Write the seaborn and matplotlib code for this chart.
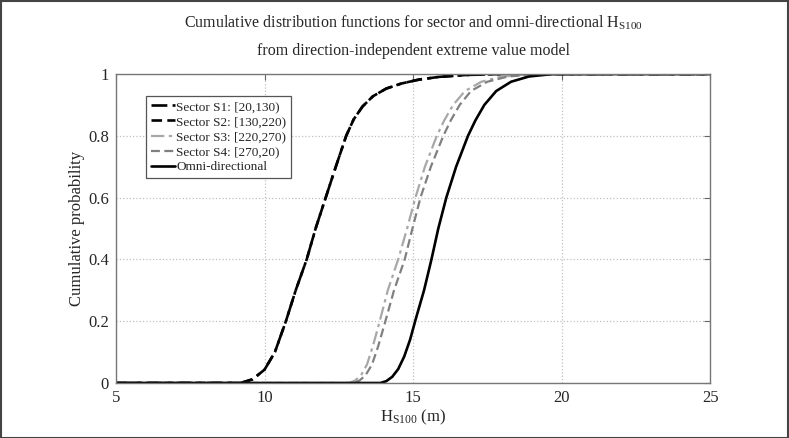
import matplotlib
matplotlib.use("Agg")
import matplotlib.pyplot as plt
import seaborn as sns
import pandas as pd
from matplotlib.patches import Rectangle

# ---- data ----
s1_x = [5, 9.2, 9.6, 10.0, 10.35, 10.72, 11.05, 11.42, 11.72, 12.06, 12.4, 12.75, 13.0, 13.3, 13.65, 14.1, 14.6, 15.2, 15.9, 16.8, 18.0, 25]
s1_y = [0, 0, 0.012, 0.043, 0.1, 0.2, 0.3, 0.4, 0.5, 0.6, 0.7, 0.8, 0.853, 0.895, 0.928, 0.953, 0.969, 0.982, 0.991, 0.997, 1, 1]

s2_x = [5, 9.2, 9.6, 10.0, 10.35, 10.72, 11.05, 11.42, 11.72, 12.06, 12.4, 12.75, 13.0, 13.3, 13.65, 14.1, 14.6, 15.2, 15.9, 16.8, 18.0, 25]
s2_y = [0, 0, 0.012, 0.043, 0.1, 0.2, 0.3, 0.4, 0.5, 0.6, 0.7, 0.8, 0.853, 0.895, 0.928, 0.953, 0.969, 0.982, 0.991, 0.997, 1, 1]

s3_x = [5, 12.85, 13.05, 13.25, 13.45, 13.65, 13.85, 14.15, 14.5, 14.8, 15.08, 15.4, 15.8, 16.05, 16.35, 16.75, 17.3, 18.0, 19.2, 25]
s3_y = [0, 0, 0.008, 0.025, 0.06, 0.12, 0.19, 0.3, 0.4, 0.5, 0.6, 0.7, 0.8, 0.85, 0.9, 0.945, 0.975, 0.992, 1, 1]

s4_x = [5, 13.0, 13.2, 13.4, 13.62, 13.83, 14.04, 14.36, 14.72, 14.98, 15.25, 15.6, 16.02, 16.27, 16.57, 16.95, 17.5, 18.2, 19.3, 25]
s4_y = [0, 0, 0.008, 0.025, 0.06, 0.12, 0.19, 0.3, 0.4, 0.5, 0.6, 0.7, 0.8, 0.85, 0.9, 0.945, 0.975, 0.992, 1, 1]

om_x = [5, 13.9, 14.1, 14.3, 14.5, 14.7, 14.9, 15.1, 15.37, 15.62, 15.85, 16.12, 16.45, 16.85, 17.1, 17.4, 17.8, 18.3, 18.9, 19.7, 25]
om_y = [0, 0, 0.006, 0.02, 0.045, 0.085, 0.14, 0.21, 0.3, 0.4, 0.5, 0.6, 0.7, 0.8, 0.85, 0.9, 0.945, 0.975, 0.992, 1, 1]

labels = ["Sector S1: [20,130)", "Sector S2: [130,220)", "Sector S3: [220,270)",
          "Sector S4: [270,20)", "Omni-directional"]
x_ticks = [5, 10, 15, 20, 25]
y_ticks = [0, 0.2, 0.4, 0.6, 0.8, 1]
y_ticklabels = ["0", "0.2", "0.4", "0.6", "0.8", "1"]

# ---- style ----
sns.set_style("white")
plt.rcParams["font.family"] = ["Liberation Serif", "DejaVu Serif"]
plt.rcParams["mathtext.fontset"] = "custom"
plt.rcParams["mathtext.rm"] = "Liberation Serif"
plt.rcParams["mathtext.it"] = "Liberation Serif:italic"

fig = plt.figure(figsize=(7.89, 4.38), dpi=100)
ax = fig.add_axes([0.147, 0.1256, 0.753, 0.7054])

series = [
    (s1_x, s1_y, labels[0], "black", (0, (6, 2, 1.5, 2)), 1.9),
    (s2_x, s2_y, labels[1], "black", (0, (4, 2)), 1.9),
    (s3_x, s3_y, labels[2], "#a8a8a8", (0, (6, 2, 1.5, 2)), 1.6),
    (s4_x, s4_y, labels[3], "#808080", (0, (4, 2)), 1.6),
    (om_x, om_y, labels[4], "black", "-", 1.9),
]
for xs, ys, lab, col, ls, lw in series:
    df = pd.DataFrame({"x": xs, "y": ys})
    sns.lineplot(data=df, x="x", y="y", ax=ax, color=col, linestyle=ls,
                 linewidth=lw, label=lab, estimator=None, sort=False)

ax.set_xlim(5, 25)
ax.set_ylim(0, 1)
ax.set_xticks(x_ticks)
ax.set_yticks(y_ticks)
ax.set_yticklabels(y_ticklabels)
ax.grid(True, linestyle=":", color="#c0c0c0", linewidth=0.9)
ax.tick_params(axis="x", direction="in", top=True, length=4, labelsize=12,
               color="#666666", pad=5)
ax.tick_params(axis="y", direction="in", right=True, length=4, labelsize=12,
               color="#666666", pad=5)
for sp in ax.spines.values():
    sp.set_color("#777777")
    sp.set_linewidth(1.0)

ax.set_xlabel(r"H$_{\mathrm{S100}}$ (m)", fontsize=12, labelpad=1)
ax.set_ylabel("Cumulative probability", fontsize=12, labelpad=2)
ax.set_title("Cumulative distribution functions for sector and omni-directional H$_{\\mathrm{S100}}$\n"
             "from direction-independent extreme value model",
             fontsize=11.5, linespacing=1.9, pad=14)

leg = ax.legend(loc="upper left", bbox_to_anchor=(0.04, 0.95), fontsize=9.5,
                handlelength=1.8, handletextpad=0.1, borderpad=0.35,
                labelspacing=0.22, fancybox=False, framealpha=1)
leg.get_frame().set_edgecolor("#555555")
leg.get_frame().set_linewidth(0.9)

fig.patches.append(Rectangle((0.001, 0.001), 0.998, 0.997, transform=fig.transFigure,
                             fill=False, edgecolor="#444444", linewidth=1.5))

fig.savefig("out.png", dpi=100)
